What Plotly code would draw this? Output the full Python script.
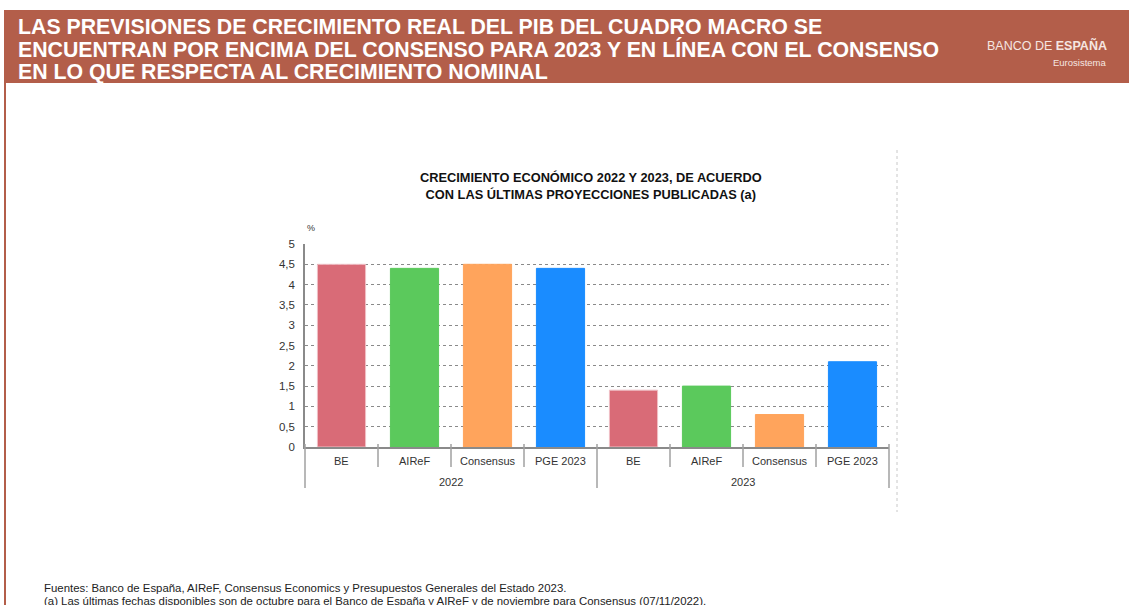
import plotly.graph_objects as go

categories = ["BE", "AIReF", "Consensus", "PGE 2023"]
years = ["2022", "2023"]
values_2022 = [4.5, 4.4, 4.5, 4.4]
values_2023 = [1.4, 1.5, 0.8, 2.1]
bar_colors = ["#D96B77", "#5BC95C", "#FFA45C", "#1A8CFF"]
bar_edges = ["#F0C0C6", "#5BC95C", "#FFA45C", "#1A8CFF"]
y_ticks = [0, 0.5, 1, 1.5, 2, 2.5, 3, 3.5, 4, 4.5, 5]

W, H = 1129, 605
L, R, T, B = 305, 240, 244, 158
PW, PH = W - L - R, H - T - B
FONT = "Liberation Sans, Arial, sans-serif"
HEAD = "#B35E4A"

outer = [y for y in years for _ in categories]
inner = categories * len(years)
vals = values_2022 + values_2023
cols = bar_colors * len(years)
edges = bar_edges * len(years)

fig = go.Figure()
fig.add_trace(go.Bar(
    x=[outer, inner], y=vals,
    marker=dict(color=cols, line=dict(width=1, color=edges)),
    showlegend=False, hoverinfo="y",
))


def px_x(p):
    return (p - L) / PW


def px_y(p):
    return (H - B - p) / PH


shapes = []
shapes.append(dict(type="rect", xref="paper", yref="paper",
                   x0=px_x(4), x1=px_x(W + 2), y0=px_y(83), y1=px_y(10),
                   fillcolor=HEAD, line=dict(width=0), layer="below"))
shapes.append(dict(type="line", xref="paper", yref="paper",
                   x0=px_x(5), x1=px_x(5), y0=px_y(83), y1=px_y(H + 2),
                   line=dict(color=HEAD, width=2)))
shapes.append(dict(type="line", xref="paper", yref="paper",
                   x0=px_x(897), x1=px_x(897), y0=px_y(150), y1=px_y(512),
                   line=dict(color="#C8C8C8", width=1, dash="dot")))
n = len(outer)
for i in range(n + 1):
    long = (i % len(categories) == 0)
    y1px = 488 if long else 467
    shapes.append(dict(type="line", xref="paper", yref="paper",
                       x0=i / n, x1=i / n, y0=px_y(444), y1=px_y(y1px),
                       line=dict(color="#A0A0A0", width=1.5)))
fig.update_layout(shapes=shapes)

ann = []
title_lines = ["LAS PREVISIONES DE CRECIMIENTO REAL DEL PIB DEL CUADRO MACRO SE",
               "ENCUENTRAN POR ENCIMA DEL CONSENSO PARA 2023 Y EN LÍNEA CON EL CONSENSO",
               "EN LO QUE RESPECTA AL CRECIMIENTO NOMINAL"]
for k, t in enumerate(title_lines):
    ann.append(dict(text="<b>" + t + "</b>", xref="paper", yref="paper",
                    x=px_x(16), y=px_y(27 + k * 22.5), xanchor="left", yanchor="middle",
                    showarrow=False, font=dict(family=FONT, size=21.3, color="white")))
ann.append(dict(text="BANCO DE <b>ESPAÑA</b>", xref="paper", yref="paper",
                x=px_x(1109), y=px_y(45), xanchor="right", yanchor="middle",
                showarrow=False, font=dict(family=FONT, size=12.5, color="#F6E6E1")))
ann.append(dict(text="Eurosistema", xref="paper", yref="paper",
                x=px_x(1109), y=px_y(62), xanchor="right", yanchor="middle",
                showarrow=False, font=dict(family=FONT, size=9.5, color="#F6E6E1")))
ann.append(dict(text="<b>CRECIMIENTO ECONÓMICO 2022 Y 2023, DE ACUERDO</b><br><b>CON LAS ÚLTIMAS PROYECCIONES PUBLICADAS (a)</b>",
                xref="paper", yref="paper", x=px_x(591), y=px_y(186),
                xanchor="center", yanchor="middle", showarrow=False,
                font=dict(family=FONT, size=12.8, color="#111")))
ann.append(dict(text="%", xref="paper", yref="paper", x=px_x(311), y=px_y(228),
                xanchor="center", yanchor="middle", showarrow=False,
                font=dict(family=FONT, size=9, color="#333")))
for i, lab in enumerate(inner):
    ann.append(dict(text=lab, xref="paper", yref="paper", x=(i + 0.5) / n, y=px_y(461),
                    xanchor="center", yanchor="middle", showarrow=False,
                    font=dict(family=FONT, size=11, color="#333")))
for g, yr in enumerate(years):
    ann.append(dict(text=yr, xref="paper", yref="paper", x=(g + 0.5) / len(years), y=px_y(482),
                    xanchor="center", yanchor="middle", showarrow=False,
                    font=dict(family=FONT, size=11, color="#333")))
ann.append(dict(text="Fuentes: Banco de España, AIReF, Consensus Economics y Presupuestos Generales del Estado 2023.",
                xref="paper", yref="paper", x=px_x(42), y=px_y(588),
                xanchor="left", yanchor="middle", showarrow=False,
                font=dict(family=FONT, size=11.4, color="#222")))
ann.append(dict(text="(a) Las últimas fechas disponibles son de octubre para el Banco de España y AIReF y de noviembre para Consensus (07/11/2022).",
                xref="paper", yref="paper", x=px_x(42), y=px_y(601),
                xanchor="left", yanchor="middle", showarrow=False,
                font=dict(family=FONT, size=11.4, color="#222")))
fig.update_layout(annotations=ann)

fig.update_layout(
    width=W, height=H,
    margin=dict(l=L, r=R, t=T, b=B, autoexpand=False),
    paper_bgcolor="white", plot_bgcolor="white",
    separators=",.",
    bargap=0.34,
    font=dict(family=FONT, size=11, color="#333"),
    xaxis=dict(type="multicategory", showdividers=False, ticks="",
               showticklabels=False,
               showline=True, linecolor="#8A8A8A", linewidth=1.5,
               showgrid=False),
    yaxis=dict(range=[0, 5], tickvals=y_ticks, showgrid=True,
               gridcolor="#8A8A8A", griddash="dot", gridwidth=1,
               showline=True, linecolor="#8A8A8A", linewidth=1.5,
               zeroline=False, ticks="", ticklabelstandoff=6,
               tickfont=dict(size=11.5, color="#333")),
)

fig.write_html("out.html", config={"displayModeBar": False},
               post_script="document.body.style.margin='0';document.body.style.overflow='hidden';")
